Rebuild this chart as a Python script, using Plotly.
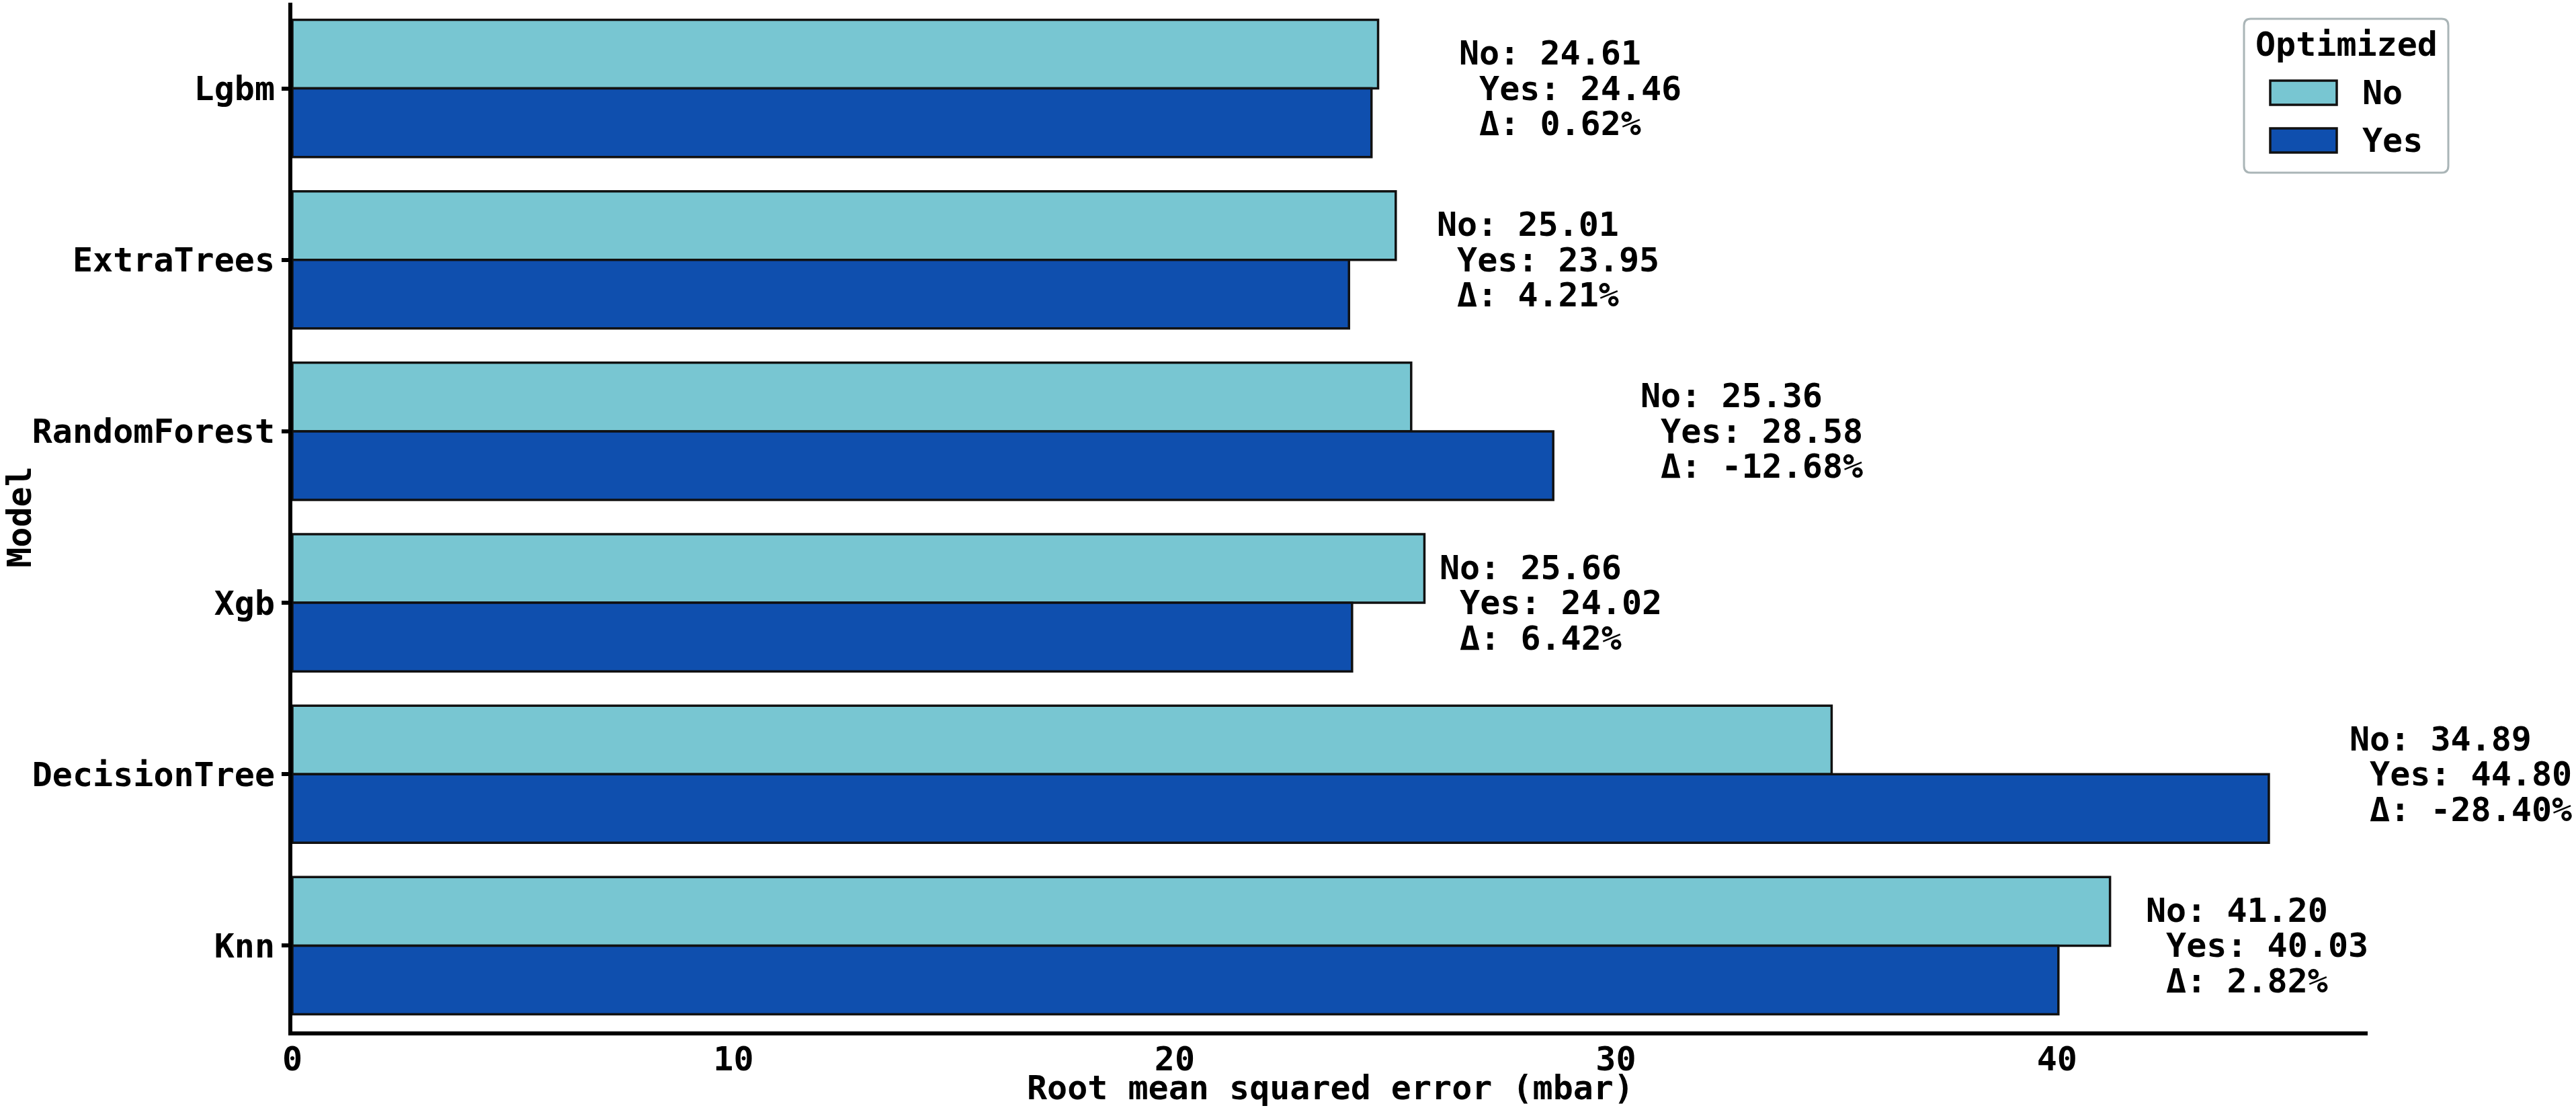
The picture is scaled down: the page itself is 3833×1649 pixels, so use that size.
import plotly.graph_objects as go

# ---- data ----
models = ["Lgbm", "ExtraTrees", "RandomForest", "Xgb", "DecisionTree", "Knn"]
rmse_no = [24.61, 25.01, 25.36, 25.66, 34.89, 41.20]
rmse_yes = [24.46, 23.95, 28.58, 24.02, 44.80, 40.03]
delta_pct = [0.62, 4.21, -12.68, 6.42, -28.40, 2.82]
series_names = ["No", "Yes"]
x_ticks = [0, 10, 20, 30, 40]
x_title = "Root mean squared error (mbar)"
y_title = "Model"
legend_title = "Optimized"

# ---- style ----
C_NO = "#78c6d2"
C_YES = "#0f4fae"
FONT = "DejaVu Sans Mono"
FS = 50
W_FIG, H_FIG = 3833, 1649
PL, PR, PT, PB = 435, 3523, 4, 1535
PW, PH = PR - PL, PB - PT


def px(x):
    return (x - PL) / PW


def py(y):
    return (PB - y) / PH


fnt = dict(family=FONT, size=FS, color="black", weight="bold")

fig = go.Figure()
for name, vals, col in zip(series_names, [rmse_no, rmse_yes], [C_NO, C_YES]):
    fig.add_trace(go.Bar(
        y=models, x=vals, name=name, orientation="h",
        marker=dict(color=col, line=dict(color="#111111", width=3.5)),
        showlegend=False,
    ))

xmax = max(max(rmse_no), max(rmse_yes)) * 1.05
unit_px = PW / xmax

annotations = []
for m, n, yv, d in zip(models, rmse_no, rmse_yes, delta_pct):
    lines = [f"No: {n:.2f}", f"\u00a0Yes: {yv:.2f}", f"\u00a0Δ: {d:.2f}%"]
    # keep the block inside the page: estimate widest line in pixels
    widest = max(len(t) for t in lines) * 0.602 * FS + 6
    left_px = PL + (yv + 2) * unit_px - 3
    xs = -3 - max(0, left_px + widest - (W_FIG - 2))
    for ln, shift in zip(lines, [52.5, 0, -52.5]):
        annotations.append(dict(
            x=yv + 2, y=m, xref="x", yref="y", text=ln, showarrow=False,
            xanchor="left", yanchor="middle", yshift=shift, xshift=xs,
            font=fnt,
        ))

# x-axis title (placed below the tick labels, at the bottom of the page)
annotations.append(dict(
    x=0.5, y=py(H_FIG), xref="paper", yref="paper", text=x_title,
    showarrow=False, xanchor="center", yanchor="bottom", borderpad=0, font=fnt))

# ---- manual legend ----
shapes = []
lx0, lx1, ly0, ly1, r = 3339, 3643, 28, 257, 10
rx, ry = r / PW, r / PH
X0, X1, Y0, Y1 = px(lx0), px(lx1), py(ly0), py(ly1)
path = (f"M {X0+rx},{Y0} L {X1-rx},{Y0} Q {X1},{Y0} {X1},{Y0-ry} "
        f"L {X1},{Y1+ry} Q {X1},{Y1} {X1-rx},{Y1} "
        f"L {X0+rx},{Y1} Q {X0},{Y1} {X0},{Y1+ry} "
        f"L {X0},{Y0-ry} Q {X0},{Y0} {X0+rx},{Y0} Z")
shapes.append(dict(type="path", path=path, xref="paper", yref="paper",
                   line=dict(color="#aab5b7", width=3), fillcolor="white", layer="above"))
annotations.append(dict(
    x=px(3491), y=py(66), xref="paper", yref="paper", text=legend_title,
    showarrow=False, xanchor="center", yanchor="middle", font=fnt))
for i, (name, col) in enumerate(zip(series_names, [C_NO, C_YES])):
    cy = 138 + i * 71
    shapes.append(dict(type="rect", xref="paper", yref="paper",
                       x0=px(3378), x1=px(3477), y0=py(cy - 18), y1=py(cy + 18),
                       fillcolor=col, line=dict(color="#111111", width=3.5), layer="above"))
    annotations.append(dict(
        x=px(3513), y=py(cy), xref="paper", yref="paper", text=name,
        showarrow=False, xanchor="left", yanchor="middle", font=fnt))

fig.update_layout(
    width=W_FIG, height=H_FIG,
    margin=dict(l=PL, r=W_FIG - PR, t=PT, b=H_FIG - PB, pad=0),
    paper_bgcolor="white", plot_bgcolor="white",
    barmode="group", bargap=0.2, bargroupgap=0,
    showlegend=False,
    font=fnt,
    annotations=annotations, shapes=shapes,
)
fig.update_xaxes(
    range=[0, xmax], tickvals=x_ticks, ticks="", showgrid=False, zeroline=False,
    showline=True, linecolor="black", linewidth=6,
    tickfont=fnt, ticklabelstandoff=-8,
    automargin=False,
)
fig.update_yaxes(
    range=[5.5, -0.5], ticks="outside", ticklen=10, tickwidth=6, tickcolor="black",
    showgrid=False, zeroline=False, showline=True, linecolor="black", linewidth=6,
    tickfont=fnt,
    title=dict(text=y_title, standoff=14, font=fnt),
    automargin=False,
)

fig.write_html("out.html")
